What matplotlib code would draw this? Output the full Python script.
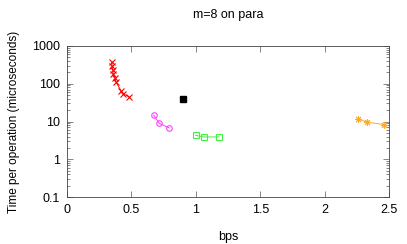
import matplotlib.pyplot as plt
from matplotlib.ticker import LogLocator, NullFormatter, FixedLocator

plt.rcParams['font.family'] = ['Liberation Sans', 'DejaVu Sans']

# series
red_x = [0.349, 0.349, 0.357, 0.357, 0.372, 0.38, 0.419, 0.434, 0.481]
red_y = [379, 298, 233, 183, 144, 113, 65, 55, 45]
black_x = [0.9]
black_y = [40]
mag_x = [0.674, 0.716, 0.793]
mag_y = [14.7, 8.9, 6.8]
green_x = [0.998, 1.06, 1.18]
green_y = [4.3, 3.9, 3.9]
orange_x = [2.258, 2.328, 2.465]
orange_y = [11.8, 9.6, 8.3]

xticks = [0, 0.5, 1, 1.5, 2, 2.5]
xlabels = ['0', '0.5', '1', '1.5', '2', '2.5']
yticks = [0.1, 1, 10, 100, 1000]
ylabels = ['0.1', '1', '10', '100', '1000']

fig = plt.figure(figsize=(4.07, 2.44), dpi=100)
ax = fig.add_axes([67 / 407, 1 - 197 / 244, (389 - 67) / 407, (197 - 46) / 244])

ax.plot(red_x, red_y, color='#ff0000', marker='x', ms=4, mew=0.8, lw=0.7)
ax.plot(black_x, black_y, color='black', marker='s', ms=4, lw=0)
ax.plot(mag_x, mag_y, color='#ff44ff', marker='o', ms=4, mfc='none', mew=0.8, lw=0.7)
ax.plot(green_x, green_y, color='#44ee44', marker='s', ms=5, mfc='none', mew=0.8, lw=0.7)
ax.plot(orange_x, orange_y, color='#ffaa22', marker=(8, 2, 0), ms=5, mew=0.7, lw=0.7)

ax.set_yscale('log')
ax.set_xlim(0, 2.5)
ax.set_ylim(0.1, 1000)
ax.xaxis.set_major_locator(FixedLocator(xticks))
ax.set_xticklabels(xlabels)
ax.yaxis.set_major_locator(FixedLocator(yticks))
ax.set_yticklabels(ylabels)
ax.yaxis.set_minor_locator(LogLocator(base=10, subs=range(2, 10)))
ax.yaxis.set_minor_formatter(NullFormatter())
ax.tick_params(which='both', direction='in', top=True, right=True, labelsize=9, width=0.5, color='#555555')
ax.tick_params(which='major', length=4, pad=5)
ax.tick_params(which='minor', length=2)
for s in ax.spines.values():
    s.set_linewidth(0.6)
    s.set_color('#444444')

ax.set_ylabel('Time per operation (microseconds)', fontsize=8.5, labelpad=9)
fig.text(228 / 407, 1 - 237 / 244, 'bps', fontsize=9, ha='center', va='center')
fig.text(228 / 407, 1 - 15 / 244, 'm=8 on para', fontsize=9, ha='center', va='center')

fig.savefig('out.png', dpi=100)
